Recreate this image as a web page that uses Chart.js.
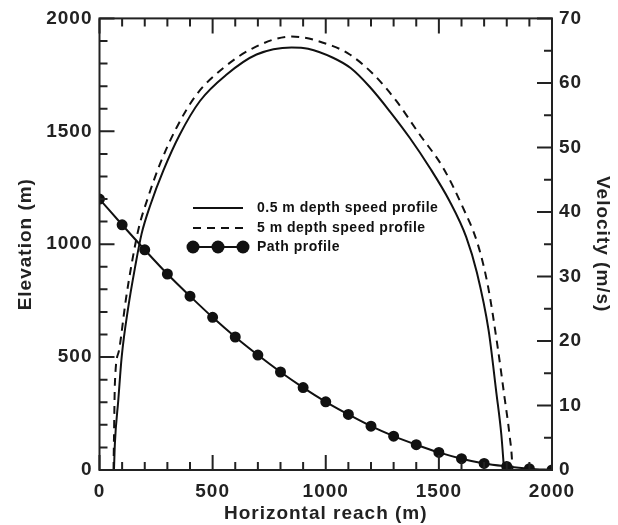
<!DOCTYPE html>
<html>
<head>
<meta charset="utf-8">
<script src="https://cdn.jsdelivr.net/npm/chart.js@4.4.1/dist/chart.umd.min.js"></script>
<style>
  html, body { margin: 0; padding: 0; background: #fff; }
  #wrap { width: 618px; height: 525px; position: relative; }
</style>
</head>
<body>
<div id="wrap"><canvas id="profileChart" width="618" height="525"></canvas></div>
<script>
// path profile (elevation vs reach)
const pathReach = [0, 100, 200, 300, 400, 500, 600, 700, 800, 900, 1000, 1100, 1200, 1300, 1400, 1500, 1600, 1700, 1800, 1900, 2000];
const pathElev = [1200, 1086, 975, 868, 770, 676, 589, 509, 434, 365, 302, 246, 194, 150, 112, 78, 50, 29, 16, 6, 0];

// 0.5 m depth speed profile
const reachShallow = [64, 68, 83, 98, 127, 157, 186, 226, 282, 355, 444, 562, 694, 849, 922, 1032, 1110, 1194, 1283, 1371, 1459, 1547, 1621, 1668, 1720, 1754, 1776, 1786, 1788];
const velShallow = [0, 4.1, 10.8, 17.5, 25.2, 31.4, 36.6, 41.2, 46.4, 52.0, 57.2, 61.3, 64.4, 65.5, 65.3, 63.9, 62.3, 59.4, 55.6, 51.5, 46.9, 41.7, 36.1, 30.6, 21.6, 12, 5.5, 1.0, 0];

// 5 m depth speed profile
const reachDeep = [62, 64, 68, 86, 116, 145, 174, 212, 267, 341, 429, 547, 679, 849, 1032, 1106, 1209, 1312, 1415, 1518, 1606, 1672, 1717, 1760, 1790, 1812, 1824, 1825];
const velDeep = [0, 5, 13.4, 18.5, 26.3, 32.5, 37.6, 42, 47.4, 53.1, 58.2, 62.3, 65.4, 67.2, 65.7, 64.4, 61.4, 57.2, 52.0, 46.9, 40.7, 35.0, 28.5, 19, 11.3, 5.5, 1.0, 0];

const xTicks = [0, 500, 1000, 1500, 2000];
const elevTicks = [0, 500, 1000, 1500, 2000];
const velTicks = [0, 10, 20, 30, 40, 50, 60, 70];

const labelFont = { family: 'Liberation Sans, Arial, sans-serif', size: 19, weight: 'bold' };
const titleFont = { family: 'Liberation Sans, Arial, sans-serif', size: 19, weight: 'bold' };

function pts(xs, ys) {
    return xs.map((x, i) => ({ x: x, y: ys[i] }));
}

// the original lettering is a bit wider than Liberation Sans
const spacingPlugin = {
    id: 'spacing',
    beforeDraw(chart) { chart.ctx.letterSpacing = '1px'; }
};

// frame + inward ticks
const framePlugin = {
    id: 'frame',
    afterDraw(chart) {
        const ctx = chart.ctx;
        const a = chart.chartArea;
        const sx = chart.scales.x, sy = chart.scales.y, sv = chart.scales.v;
        ctx.save();
        ctx.strokeStyle = '#222';
        ctx.lineWidth = 2;
        ctx.strokeRect(a.left, a.top, a.right - a.left, a.bottom - a.top);
        ctx.beginPath();
        for (let v = 0; v <= 2000; v += 100) {
            const len = v % 500 === 0 ? 15 : 8;
            const px = sx.getPixelForValue(v);
            ctx.moveTo(px, a.bottom); ctx.lineTo(px, a.bottom - len);
            ctx.moveTo(px, a.top); ctx.lineTo(px, a.top + len);
            const py = sy.getPixelForValue(v);
            ctx.moveTo(a.left, py); ctx.lineTo(a.left + len, py);
        }
        for (let v = 0; v <= 70; v += 5) {
            const len = v % 10 === 0 ? 15 : 8;
            const py = sv.getPixelForValue(v);
            ctx.moveTo(a.right, py); ctx.lineTo(a.right - len, py);
        }
        ctx.stroke();
        ctx.restore();
    }
};

// legend inside the plot
const legendPlugin = {
    id: 'insideLegend',
    afterDatasetsDraw(chart) {
        const ctx = chart.ctx;
        const x0 = 193, x1 = 243, tx = 257;
        const rows = [208, 228, 247];
        ctx.save();
        ctx.strokeStyle = '#111';
        ctx.fillStyle = '#111';
        ctx.lineWidth = 2;
        chart.data.datasets.forEach((ds, i) => {
            const y = rows[i];
            ctx.setLineDash(ds.borderDash || []);
            ctx.beginPath();
            ctx.moveTo(x0, y); ctx.lineTo(x1, y);
            ctx.stroke();
            ctx.setLineDash([]);
            if (ds.pointRadius > 0) {
                [x0, (x0 + x1) / 2, x1].forEach(cx => {
                    ctx.beginPath();
                    ctx.arc(cx, y, 6.5, 0, Math.PI * 2);
                    ctx.fill();
                });
            }
            ctx.font = 'bold 14px "Liberation Sans", Arial, sans-serif';
            ctx.letterSpacing = '0.5px';
            ctx.textBaseline = 'middle';
            ctx.fillText(ds.label, tx, y);
        });
        ctx.restore();
    }
};

const plain = v => String(v);

const ctx = document.getElementById('profileChart').getContext('2d');
new Chart(ctx, {
    type: 'scatter',
    data: {
        datasets: [
            {
                label: '0.5 m depth speed profile',
                data: pts(reachShallow, velShallow),
                yAxisID: 'v',
                showLine: true,
                borderColor: '#111',
                borderWidth: 2,
                pointRadius: 0,
                cubicInterpolationMode: 'monotone'
            },
            {
                label: '5 m depth speed profile',
                data: pts(reachDeep, velDeep),
                yAxisID: 'v',
                showLine: true,
                borderColor: '#111',
                borderWidth: 2,
                borderDash: [8, 6],
                pointRadius: 0,
                cubicInterpolationMode: 'monotone'
            },
            {
                label: 'Path profile',
                data: pts(pathReach, pathElev),
                yAxisID: 'y',
                showLine: true,
                borderColor: '#111',
                backgroundColor: '#111',
                borderWidth: 2,
                pointRadius: 4.5,
                pointBackgroundColor: '#111',
                cubicInterpolationMode: 'monotone'
            }
        ]
    },
    options: {
        responsive: false,
        animation: false,
        devicePixelRatio: 1,
        layout: { padding: { top: 17, right: 0, bottom: 0, left: 0 } },
        plugins: { legend: { display: false }, tooltip: { enabled: false } },
        scales: {
            x: {
                type: 'linear', min: 0, max: 2000,
                grid: { display: false, drawTicks: false },
                border: { display: false },
                afterBuildTicks: s => { s.ticks = xTicks.map(v => ({ value: v })); },
                afterFit: s => { s.height = 55; },
                ticks: { color: '#222', font: labelFont, padding: 10, maxRotation: 0, autoSkip: false, callback: plain },
                title: { display: true, text: 'Horizontal reach (m)', color: '#222', font: titleFont, padding: { top: 0, bottom: 0 } }
            },
            y: {
                type: 'linear', position: 'left', min: 0, max: 2000,
                grid: { display: false, drawTicks: false },
                border: { display: false },
                afterBuildTicks: s => { s.ticks = elevTicks.map(v => ({ value: v })); },
                afterFit: s => { s.width = 99.5; },
                ticks: { color: '#222', font: labelFont, padding: 7, autoSkip: false, callback: plain },
                title: { display: true, text: 'Elevation (m)', color: '#222', font: titleFont, padding: { top: 14, bottom: 0 } }
            },
            v: {
                type: 'linear', position: 'right', min: 0, max: 70,
                grid: { display: false, drawTicks: false },
                border: { display: false },
                afterBuildTicks: s => { s.ticks = velTicks.map(v => ({ value: v })); },
                afterFit: s => { s.width = 66; },
                ticks: { color: '#222', font: labelFont, padding: 7, autoSkip: false, callback: plain },
                title: { display: true, text: 'Velocity (m/s)', color: '#222', font: titleFont, padding: { top: 4, bottom: 0 } }
            }
        }
    },
    plugins: [spacingPlugin, framePlugin, legendPlugin]
});
</script>
</body>
</html>
